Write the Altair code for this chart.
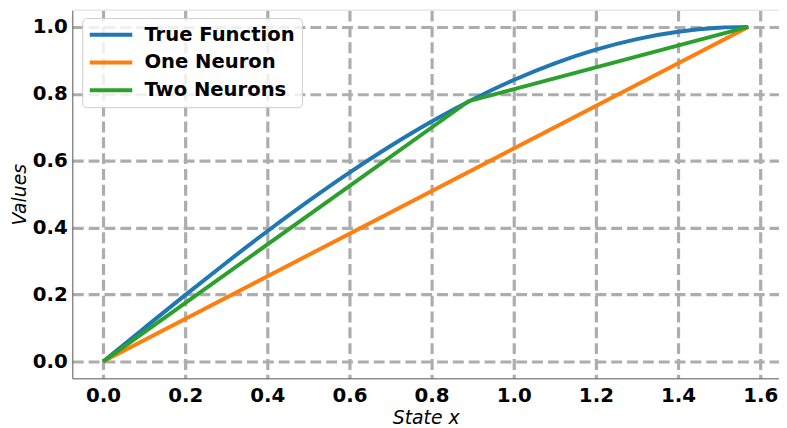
import altair as alt
import pandas as pd

# True function samples
true_x = [0.0, 0.1, 0.2, 0.3, 0.4, 0.5, 0.6, 0.7, 0.8, 0.9, 1.0, 1.1, 1.2, 1.3, 1.4, 1.5, 1.5708]
true_y = [0.0, 0.0998, 0.1987, 0.2955, 0.3894, 0.4794, 0.5646, 0.6442, 0.7174, 0.7833, 0.8415,
          0.8912, 0.9320, 0.9636, 0.9854, 0.9975, 1.0]

one_x = [0.0, 1.5708]
one_y = [0.0, 1.0]

two_x = [0.0, 0.89, 1.5708]
two_y = [0.0, 0.778, 1.0]

series = ["True Function", "One Neuron", "Two Neurons"]
colors = ["#1f77b4", "#ff7f0e", "#2ca02c"]
x_ticks = [0.0, 0.2, 0.4, 0.6, 0.8, 1.0, 1.2, 1.4, 1.6]
y_ticks = [0.0, 0.2, 0.4, 0.6, 0.8, 1.0]


def frame(name, xs, ys):
    return pd.DataFrame({"series": name, "x": xs, "y": ys, "order": list(range(len(xs)))})


df_true = frame(series[0], true_x, true_y)
df_lin = pd.concat([frame(series[1], one_x, one_y), frame(series[2], two_x, two_y)], ignore_index=True)

W, H = 714, 372
FONT = "DejaVu Sans"

x_enc = alt.X("x:Q", title="State x",
              scale=alt.Scale(domain=[-0.0747, 1.6458], nice=False, zero=False),
              axis=alt.Axis(values=x_ticks, format=".1f"))
y_enc = alt.Y("y:Q", title="Values",
              scale=alt.Scale(domain=[-0.05, 1.05], nice=False, zero=False),
              axis=alt.Axis(values=y_ticks, format=".1f"))
c_enc = alt.Color("series:N", scale=alt.Scale(domain=series, range=colors),
                  legend=alt.Legend(title=None, orient="none", legendX=10, legendY=8,
                                    symbolType="M-1.3,0H4.7", symbolSize=205, symbolStrokeWidth=4,
                                    labelFontSize=19.8, labelFontWeight="bold", labelFont=FONT,
                                    labelColor="black", labelOffset=36, rowPadding=7, padding=7,
                                    fillColor="rgba(255,255,255,0.8)", strokeColor="#cccccc",
                                    cornerRadius=4))

true_line = alt.Chart(df_true).mark_line(strokeWidth=4, interpolate="monotone", clip=True).encode(
    x=x_enc, y=y_enc, color=c_enc, order="order:Q")
lin_lines = alt.Chart(df_lin).mark_line(strokeWidth=4, interpolate="linear", clip=True).encode(
    x=x_enc, y=y_enc, color=c_enc, order="order:Q")

top_spine = alt.Chart(pd.DataFrame({"a": [0]})).mark_rule(color="#dddddd", strokeWidth=1).encode(
    x=alt.value(0), x2=alt.value(W), y=alt.value(0)
)

chart = alt.layer(true_line, lin_lines, top_spine).properties(
    width=W, height=H,
    autosize=alt.AutoSizeParams(type="none"),
    padding={"left": 65, "top": 0, "right": 0, "bottom": 48},
).configure_view(stroke=None).configure_axis(
    grid=True, gridColor="#adadad", gridWidth=3.2, gridDash=[11, 5],
    domainColor="#555555", domainWidth=1,
    ticks=False, tickSize=0,
    labelFont=FONT, labelFontSize=20, labelFontWeight="bold", labelColor="black",
    titleFont=FONT, titleFontSize=19, titleFontStyle="italic", titleFontWeight="normal",
    titleColor="black", titleBaseline="alphabetic",
).configure_axisX(labelPadding=7, titleY=46).configure_axisY(labelPadding=5, titleX=-47)

chart.save("out.html", embed_options={"renderer": "svg", "actions": False})
